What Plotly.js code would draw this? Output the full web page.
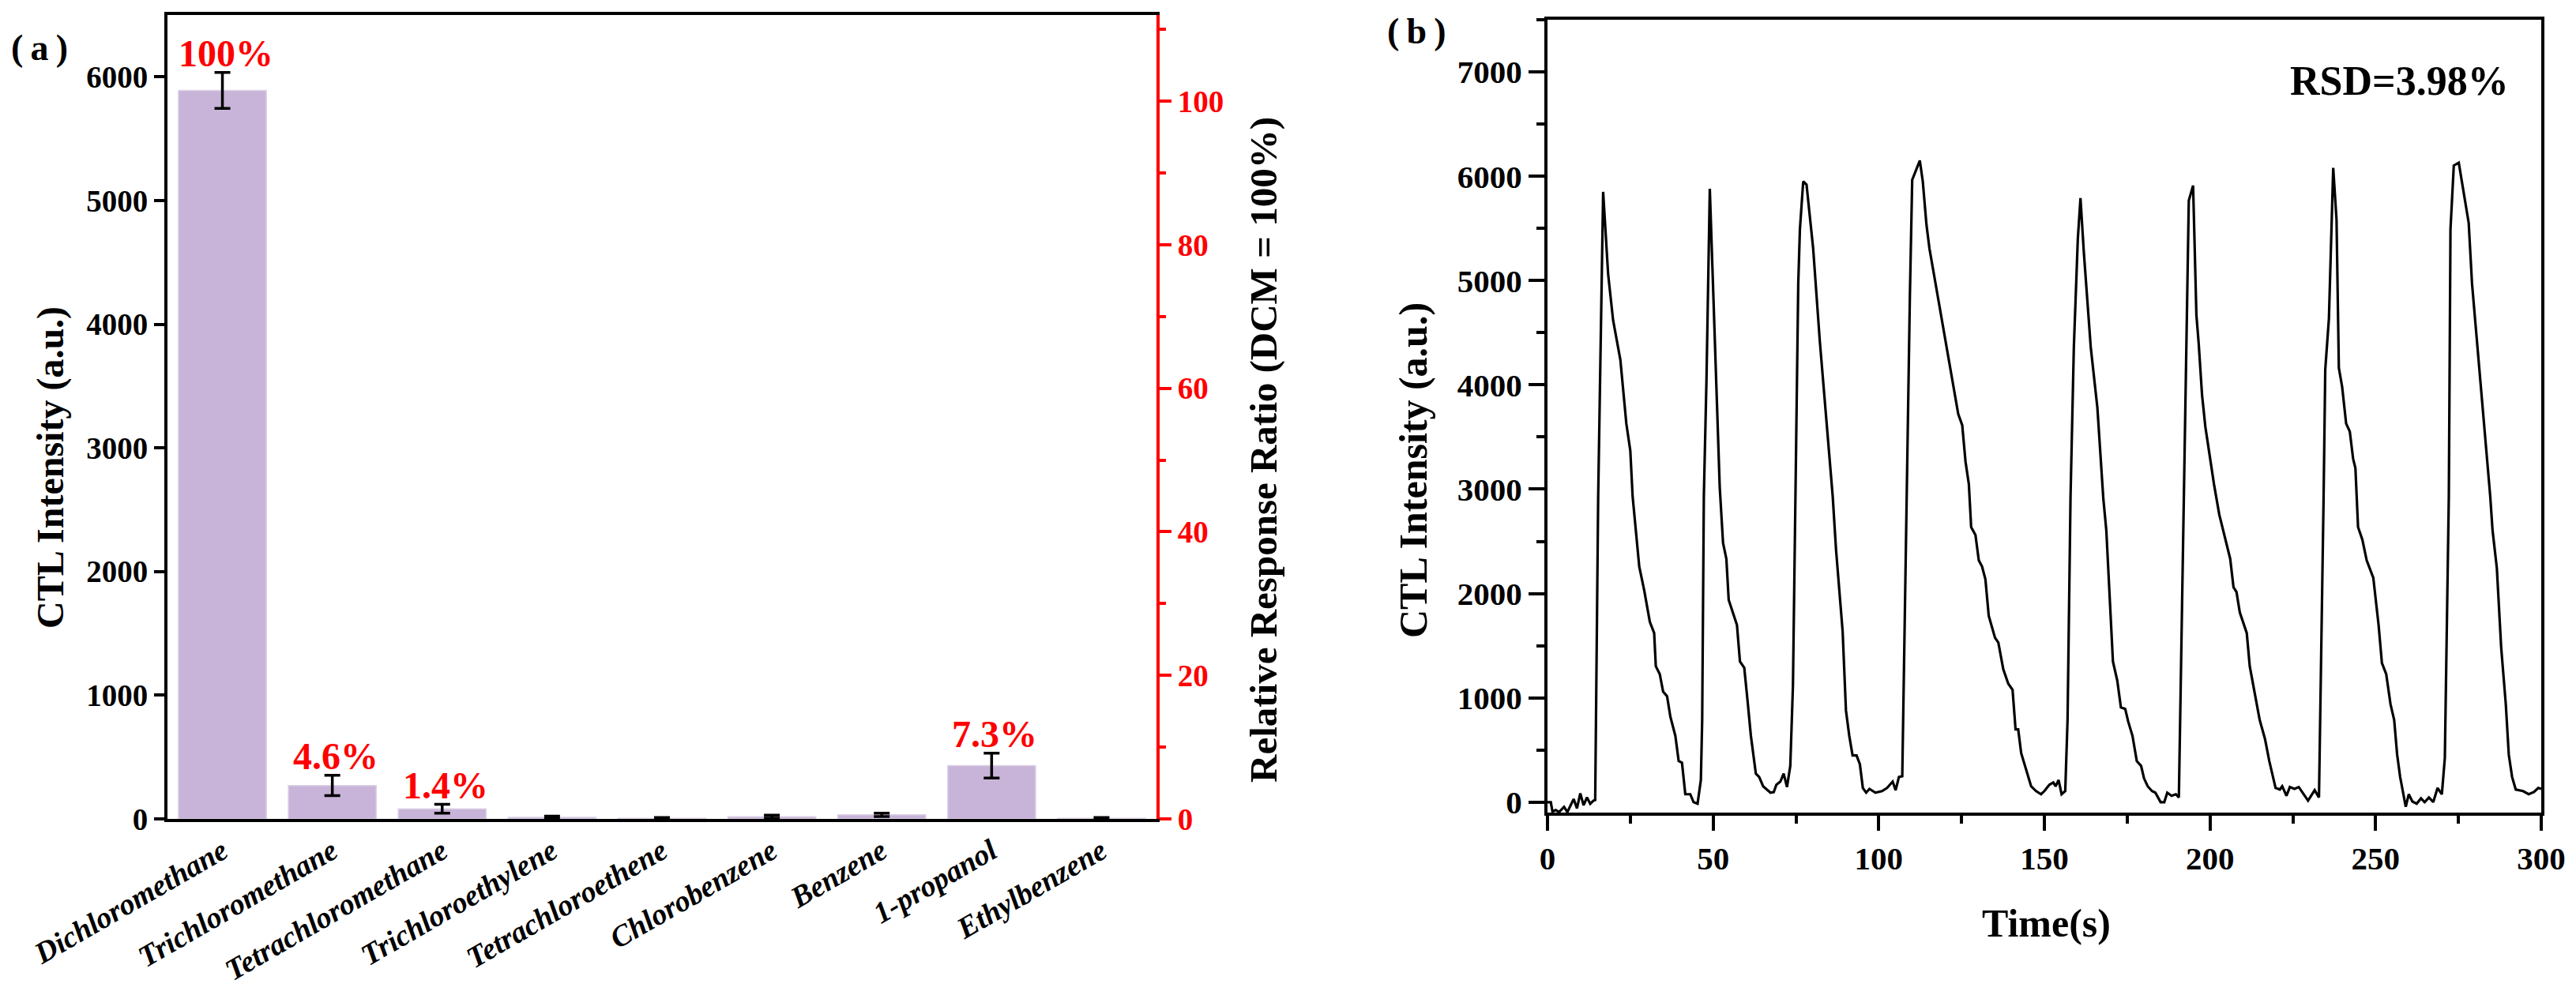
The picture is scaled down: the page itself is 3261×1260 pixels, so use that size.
<!DOCTYPE html>
<html>
<head>
<meta charset="utf-8">
<script src="https://cdn.plot.ly/plotly-3.0.1.min.js"></script>
<style>
  html, body { margin: 0; padding: 0; background: #fff; }
  #chart { width: 3261px; height: 1260px; }
</style>
</head>
<body>
<div id="chart"></div>
<script>
// (a) selectivity bars
var categories = ['Dichloromethane', 'Trichloromethane', 'Tetrachloromethane', 'Trichloroethylene',
	'Tetrachloroethene', 'Chlorobenzene', 'Benzene', '1-propanol', 'Ethylbenzene'];
var intensity = [5890, 270, 82, 12, 5, 18, 33, 431, 5];
var intensityErr = [145, 82, 36, 10, 6, 12, 14, 100, 6];
var ratioLabels = ['100%', '4.6%', '1.4%', '', '', '', '', '7.3%', ''];

// (b) repeatability trace
var time = [0, 1, 1.5, 2.5, 3.5, 5, 6, 7.9, 8.9, 9.9, 10.9, 11.9, 12.9, 13.9, 14.4,
	15.3, 16.8, 18.3, 19.8, 22.0, 23.8, 25.0, 25.7, 27.7, 29.2, 30.9, 32.2, 32.7, 33.9, 34.9, 36.1,
	37.1, 38.6, 39.6, 40.6, 41.6, 43.1, 44.1, 45.3, 46.3, 46.7,
	47.2, 48.0, 48.6, 49.0, 49.5, 50.5, 52.0, 53.0, 54.0, 54.7, 55.9, 57.2, 58.1, 59.4, 60.4, 61.4,
	62.9, 63.9, 65.1, 66.3, 67.3, 68.3, 69.1, 70.3, 71.3, 72.3, 73.3, 74.1,
	74.8, 75.7, 76.2, 77.2, 78.2, 79.2, 80.2, 82.2, 84.2, 86.1, 87.1, 88.1, 89.1, 90.1, 91.1, 92.1,
	93.3, 94.3, 95.2, 96.2, 97.2, 99.0, 101.0, 102.5, 104.2, 105.1, 106.1, 107.1,
	108.4, 109.4, 110.1, 112.4, 113.3, 114.4, 115.3, 117.3, 118.3, 119.3, 120.8, 122.3, 124.0, 125.2,
	126.2, 127.2, 127.9, 129.2, 130.2, 131.2, 132.2, 133.2, 135.1, 136.1, 137.6, 139.1, 140.4, 141.3,
	142.1, 143.0, 144.6, 146.0, 147.5, 149.0, 150.0, 151.5, 152.7, 153.4, 154.3, 155.2, 156.3, 157.0,
	157.9, 158.9, 160.1, 160.9, 161.9, 163.0, 164.0, 166.0, 167.0, 167.8, 168.7, 169.4, 170.7, 172.0,
	173.1, 174.4, 175.3, 176.6, 177.9, 179.2, 180.1, 181.2, 182.5, 183.5, 185.1, 186.2, 187.1, 188.4,
	189.7, 190.6,
	192.1, 193.1, 193.6, 194.9, 195.9, 196.6, 197.6, 198.6, 200.2, 201.2, 202.8, 204.8, 206.1, 207.1,
	208.0, 209.0, 211.1, 212.0, 213.7, 215.0, 216.6, 217.9, 219.8, 221.1, 221.8, 223.1, 224.1, 225.5,
	226.8, 228.3, 229.6, 231.6, 232.9,
	234.3, 234.8, 235.9, 237.2, 238.2, 238.9, 239.9, 241.1, 242.2, 243.2, 243.9, 244.7, 246.0, 247.3,
	249.3, 250.9, 251.9, 253.2, 254.5, 255.6, 256.5, 257.4, 259.1, 260.0, 261.1, 262.4, 263.7, 264.8,
	266.1, 267.4, 268.7, 270.0, 270.9,
	272.1, 272.6, 273.6, 275.1, 276.6, 278.1, 279.1, 281.6, 282.6, 283.6, 284.6, 285.3, 286.6, 287.9,
	289.3, 290.2, 291.2, 292.3, 294.5, 296.2, 297.8, 299.1, 300];
var ctl = [0, 0, -90, -75, -95, -45, -95, 30, -60, 85, -30, 45, -15, 15, 20,
	2930, 5850, 5064, 4621, 4240, 3629, 3369, 2930, 2257, 2030, 1727, 1621, 1303, 1227, 1060, 1015,
	818, 636, 394, 379, 76, 76, 0, -15, 212, 788,
	2933, 4056, 5400, 5880, 5400, 4514, 3018, 2485, 2333, 1939, 1818, 1697, 1348, 1288, 970, 636,
	273, 242, 152, 115, 91, 97, 167, 197, 273, 145, 348, 1121,
	2933, 4972, 5491, 5950, 5919, 5583, 5308, 4423, 3629, 2933, 2424, 2000, 1636, 879, 636, 448,
	448, 364, 136, 91, 127, 91, 106, 136, 197, 115, 242, 248,
	2933, 4850, 5965, 6150, 5949, 5537, 5308, 4942, 4759, 4575, 4300, 4026, 3720, 3614,
	3263, 3049, 2636, 2560, 2318, 2257, 2136, 1788, 1576, 1530, 1273, 1136, 1076, 697,
	697, 470, 303, 152, 106, 76, 106, 167, 188, 152, 212, 76, 106, 788,
	2933, 4362, 5400, 5790, 5278, 4820, 4362, 3782, 3293, 2909, 2606, 2151, 1348, 1167,
	909, 894, 773, 636, 394, 348, 227, 152, 106, 91, 0, 0, 91, 61,
	76, 45,
	2933, 4667, 5766, 5910, 4667, 4392, 3904, 3598, 3263, 3049, 2757, 2485, 2333, 2060,
	2015, 1818, 1621, 1303, 1000, 788, 606, 394, 136, 121, 152, 61, 145, 127,
	145, 76, 15, 115, 45,
	2933, 4148, 4636, 6080, 5583, 4163, 3980, 3629, 3553, 3293, 3202, 2636, 2515, 2318,
	2151, 1697, 1333, 1227, 939, 788, 455, 242, -45, 76, 6, -15, 36, 0,
	45, 0, 136, 76, 424,
	2933, 5491, 6102, 6130, 5827, 5552, 4972, 4056, 3660, 3293, 2933, 2606, 2242, 1485,
	939, 455, 242, 121, 106, 76, 97, 136, 127];

var W = 3261, H = 1260;
var serif = 'Liberation Serif, Times New Roman, serif';

function px(x) { return x / W; }
function py(y) { return 1 - y / H; }

// relative response (DCM = 100%), only used to carry the red right axis
var ratio = intensity.map(function(v) { return v / intensity[0] * 100; });

var bars = {
	x: categories,
	y: intensity,
	type: 'bar',
	width: 0.8,
	marker: { color: '#c8b4d8', line: { color: '#ddd2e6', width: 1.5 } },
	error_y: { type: 'data', array: intensityErr, visible: true, color: 'black', thickness: 3.5, width: 10 },
	xaxis: 'x',
	yaxis: 'y'
};

var ratioTrace = {
	x: categories,
	y: ratio,
	type: 'scatter',
	mode: 'markers',
	marker: { opacity: 0, size: 1 },
	xaxis: 'x',
	yaxis: 'y2'
};

var trace = {
	x: time,
	y: ctl,
	type: 'scatter',
	mode: 'lines',
	line: { color: 'black', width: 3.2 },
	xaxis: 'x3',
	yaxis: 'y3'
};

var annotations = [];

ratioLabels.forEach(function(lbl, i) {
	if (!lbl) return;
	annotations.push({
		xref: 'x', yref: 'y', x: categories[i], y: intensity[i] + intensityErr[i],
		text: lbl, showarrow: false, yanchor: 'bottom', yshift: -4, xshift: 4,
		font: { family: serif, size: 48, color: 'red', weight: 'bold' }
	});
});

function label(text, x, y, size, opts) {
	var a = {
		xref: 'paper', yref: 'paper', x: px(x), y: py(y), text: text, showarrow: false,
		xanchor: 'center', yanchor: 'middle',
		font: { family: serif, size: size, color: 'black', weight: 'bold' }
	};
	for (var k in opts) a[k] = opts[k];
	return a;
}

annotations.push(label('(\u2009a\u2009)', 50, 60, 46));
annotations.push(label('(\u2009b\u2009)', 1793, 39, 46));
annotations.push(label('CTL Intensity (a.u.)', 64, 592, 48, { textangle: -90 }));
annotations.push(label('Relative Response Ratio (DCM = 100%)', 1600, 570, 49, { textangle: -90 }));
annotations.push(label('CTL Intensity (a.u.)', 1789, 596, 50, { textangle: -90 }));
annotations.push(label('Time(s)', 2590, 1169, 50));
annotations.push(label('RSD=3.98%', 3178, 102, 52, { xanchor: 'right' }));

var tickBlack = function(size) {
	return { family: serif, size: size, color: 'black', weight: 'bold' };
};

var layout = {
	width: W,
	height: H,
	margin: { l: 0, r: 0, t: 0, b: 0 },
	paper_bgcolor: 'white',
	plot_bgcolor: 'rgba(0,0,0,0)',
	showlegend: false,
	xaxis: {
		domain: [px(212), px(1464)],
		anchor: 'y',
		range: [-0.5, 8.5],
		showline: true, linecolor: 'black', linewidth: 4, mirror: true,
		ticks: '', showgrid: false, zeroline: false,
		tickangle: -30,
		tickfont: { family: serif, size: 38, color: 'black', weight: 'bold', style: 'italic' }
	},
	yaxis: {
		domain: [py(1037), py(19)],
		anchor: 'x',
		range: [0, 6500],
		dtick: 1000,
		showline: true, linecolor: 'black', linewidth: 4,
		ticks: 'outside', ticklen: 13, tickwidth: 4, tickcolor: 'black',
		showgrid: false, zeroline: false,
		tickfont: tickBlack(39)
	},
	yaxis2: {
		overlaying: 'y',
		side: 'right',
		anchor: 'x',
		range: [0, 112],
		dtick: 20,
		showline: true, linecolor: 'red', linewidth: 4,
		ticks: 'outside', ticklen: 15, tickwidth: 4, tickcolor: 'red',
		minor: { dtick: 10, ticks: 'outside', ticklen: 8, tickwidth: 4, tickcolor: 'red' },
		showgrid: false, zeroline: false,
		tickfont: { family: serif, size: 39, color: 'red', weight: 'bold' }
	},
	xaxis3: {
		domain: [px(1959), px(3217)],
		anchor: 'y3',
		range: [0, 300],
		dtick: 50,
		showline: true, linecolor: 'black', linewidth: 4, mirror: true,
		ticks: 'outside', ticklen: 19, tickwidth: 4, tickcolor: 'black',
		minor: { dtick: 25, ticks: 'outside', ticklen: 10, tickwidth: 4, tickcolor: 'black' },
		showgrid: false, zeroline: false,
		tickfont: tickBlack(41)
	},
	yaxis3: {
		domain: [py(1029), py(25)],
		anchor: 'x3',
		range: [-100, 7500],
		dtick: 1000,
		tick0: 0,
		showline: true, linecolor: 'black', linewidth: 4, mirror: true,
		ticks: 'outside', ticklen: 20, tickwidth: 4, tickcolor: 'black',
		minor: { dtick: 500, ticks: 'outside', ticklen: 10, tickwidth: 4, tickcolor: 'black' },
		showgrid: false, zeroline: false,
		tickfont: tickBlack(41)
	},
	annotations: annotations
};

Plotly.newPlot('chart', [bars, ratioTrace, trace], layout, { displayModeBar: false, staticPlot: true });
</script>
</body>
</html>
